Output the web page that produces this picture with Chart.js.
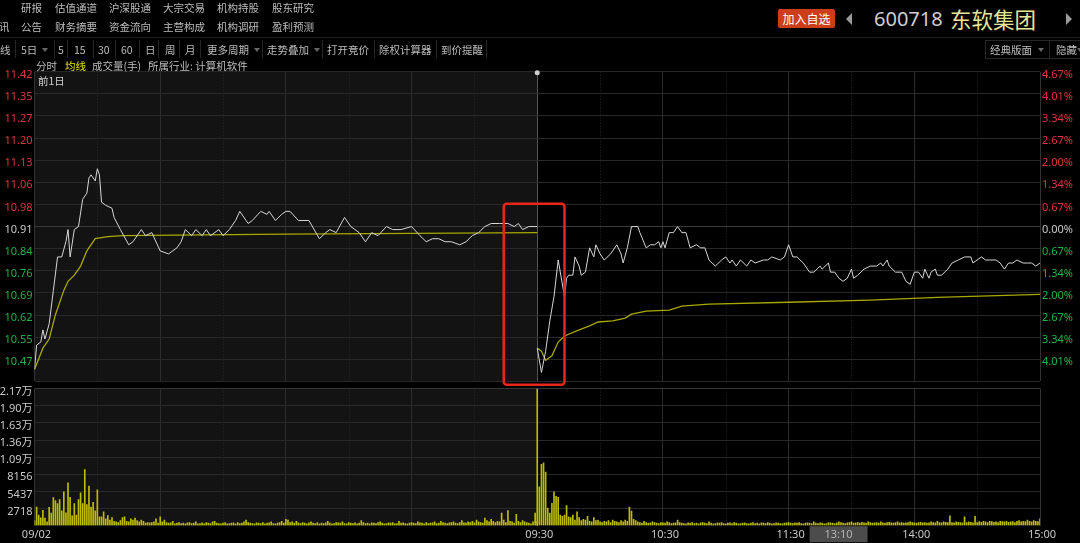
<!DOCTYPE html>
<html>
<head>
<meta charset="utf-8">
<title>600718 东软集团</title>
<script src="https://cdn.jsdelivr.net/npm/chart.js@4.4.1/dist/chart.umd.min.js"></script>
<style>
  html, body { margin: 0; padding: 0; background: #000; }
  body { width: 1080px; height: 543px; overflow: hidden; position: relative;
         font-family: "Noto Sans CJK SC", "Noto Sans", sans-serif; color: #bdbdbd; }
  .t { position: absolute; font-size: 10.5px; line-height: 13px; white-space: nowrap; z-index: 3; }
  .sep { position: absolute; top: 40px; width: 1px; height: 18px; background: #262626; }
  .dd { position: absolute; top: 48px; width: 0; height: 0; border-left: 3px solid transparent;
        border-right: 3px solid transparent; border-top: 4px solid #666; }
  canvas { position: absolute; left: 0; }
</style>
</head>
<body>
<!-- 顶部菜单 -->
<span class="t" style="left:21px;top:1px">研报</span>
<span class="t" style="left:55px;top:1px">估值通道</span>
<span class="t" style="left:109px;top:1px">沪深股通</span>
<span class="t" style="left:163px;top:1px">大宗交易</span>
<span class="t" style="left:217px;top:1px">机构持股</span>
<span class="t" style="left:272px;top:1px">股东研究</span>
<span class="t" style="left:-1px;top:19.5px">讯</span>
<span class="t" style="left:21px;top:19.5px">公告</span>
<span class="t" style="left:55px;top:19.5px">财务摘要</span>
<span class="t" style="left:109px;top:19.5px">资金流向</span>
<span class="t" style="left:163px;top:19.5px">主营构成</span>
<span class="t" style="left:217px;top:19.5px">机构调研</span>
<span class="t" style="left:272px;top:19.5px">盈利预测</span>

<div style="position:absolute;left:778px;top:9px;width:57px;height:19px;background:#cc3d18;border-radius:2px;color:#fff;font-size:12px;line-height:19px;text-align:center">加入自选</div>
<div style="position:absolute;left:846px;top:13px;width:0;height:0;border-top:6px solid transparent;border-bottom:6px solid transparent;border-right:6px solid #9a9a9a"></div>
<div style="position:absolute;left:874px;top:6px;font-family:'Noto Sans',sans-serif;font-size:20px;line-height:26px;color:#cfcfcf">600718</div>
<div style="position:absolute;left:950px;top:5px;font-size:21.5px;line-height:28px;color:#e4e49a">东软集团</div>
<div style="position:absolute;left:1066px;top:13px;width:0;height:0;border-top:6px solid transparent;border-bottom:6px solid transparent;border-left:6px solid #9a9a9a"></div>

<div style="position:absolute;left:0;top:37px;width:1080px;height:1px;background:#1c1c1c"></div>

<!-- 工具栏 -->
<span class="t" style="left:0;top:42.5px">线</span>
<span class="t" style="left:21px;top:42.5px">5日</span>
<div class="dd" style="left:42px"></div>
<span class="t" style="left:58px;top:42.5px">5</span>
<span class="t" style="left:74px;top:42.5px">15</span>
<span class="t" style="left:98px;top:42.5px">30</span>
<span class="t" style="left:121px;top:42.5px">60</span>
<span class="t" style="left:145px;top:42.5px">日</span>
<span class="t" style="left:165px;top:42.5px">周</span>
<span class="t" style="left:185px;top:42.5px">月</span>
<span class="t" style="left:207px;top:42.5px">更多周期</span>
<div class="dd" style="left:254px"></div>
<span class="t" style="left:267px;top:42.5px">走势叠加</span>
<div class="dd" style="left:314px"></div>
<span class="t" style="left:327px;top:42.5px">打开竞价</span>
<span class="t" style="left:379px;top:42.5px">除权计算器</span>
<span class="t" style="left:441px;top:42.5px">到价提醒</span>
<div class="sep" style="left:15px"></div>
<div class="sep" style="left:54px"></div>
<div class="sep" style="left:67px"></div>
<div class="sep" style="left:93px"></div>
<div class="sep" style="left:115px"></div>
<div class="sep" style="left:139px"></div>
<div class="sep" style="left:158px"></div>
<div class="sep" style="left:179px"></div>
<div class="sep" style="left:200px"></div>
<div class="sep" style="left:262px"></div>
<div class="sep" style="left:322px"></div>
<div class="sep" style="left:374px"></div>
<div class="sep" style="left:436px"></div>
<div class="sep" style="left:486px"></div>

<div style="position:absolute;left:985px;top:40px;width:100px;height:17px;border:1px solid #262626"></div>
<span class="t" style="left:990px;top:42.5px">经典版面</span>
<div class="dd" style="left:1038px"></div>
<div class="sep" style="left:1049px"></div>
<span class="t" style="left:1056px;top:42.5px">隐藏</span>
<div class="dd" style="left:1077px"></div>

<span class="t" style="left:36px;top:58.5px">分时</span>
<span class="t" style="left:65px;top:58.5px;color:#e6e600">均线</span>
<span class="t" style="left:92px;top:58.5px">成交量(手)</span>
<span class="t" style="left:148px;top:58.5px">所属行业: 计算机软件</span>
<span class="t" style="left:38px;top:73.5px;color:#cfcfcf">前1日</span>

<canvas id="vol" width="1080" height="163" style="top:380px;z-index:1"></canvas>
<canvas id="price" width="1080" height="390" style="top:0;z-index:2"></canvas>

<script>
// 昨收 10.91，纵轴每格 0.667%
var PREV_CLOSE = 10.91;
var STEP = 0.07277;
var DAY = 240;           // 一个交易日 240 分钟
var VOL_STEP = 2718.75;

var priceLabels = ['11.42','11.35','11.27','11.20','11.13','11.06','10.98','10.91','10.84','10.76','10.69','10.62','10.55','10.47'];
var pctLabels = ['4.67%','4.01%','3.34%','2.67%','2.00%','1.34%','0.67%','0.00%','0.67%','1.34%','2.00%','2.67%','3.34%','4.01%'];
var volLabels = ['', '2718', '5437', '8156', '1.09万', '1.36万', '1.63万', '1.90万', '2.17万'];
var xTickMin = [0, 240, 300, 360, 420, 480];
var xTickText = ['09/02', '09:30', '10:30', '11:30', '14:00', '15:00'];
var cursorMin = 370, cursorText = '13:10';

// 前1日 (09/02) 分时
var prevPxMin = [0,1,3,4,5,7,9,11,13,15, 16,17,19,21,23,25,26,27,29,30, 31,32,34,37,38,41,45,47,51,53,
  56,60,64,68,70,72,75,77,80,82, 84,88,90,93,96,98,101,102,104,108, 111,112,115,118,120,122,126,131,136,139,
  141,144,148,151,155,158,161,164,168,171, 175,180,184,187,190,193,196,199,203,206, 209,212,215,218,222,226,229,231,233,236, 240];
var prevPxVal = [10.44,10.52,10.53,10.57,10.54,10.59,10.70,10.81,10.81,10.86, 10.90,10.81,10.90,10.91,11.00,11.02,11.07,11.08,11.06,11.10,
  11.08,10.99,10.98,10.97,10.94,10.90,10.85,10.86,10.90,10.88, 10.89,10.83,10.82,10.84,10.86,10.90,10.88,10.90,10.88,10.90,
  10.88,10.90,10.88,10.90,10.93,10.96,10.93,10.92,10.93,10.96, 10.95,10.96,10.93,10.95,10.96,10.96,10.93,10.93,10.87,10.89,
  10.90,10.89,10.94,10.91,10.89,10.86,10.89,10.88,10.91,10.90, 10.90,10.91,10.88,10.86,10.87,10.87,10.86,10.86,10.85,10.86,
  10.88,10.89,10.91,10.92,10.92,10.92,10.91,10.92,10.90,10.91, 10.91];
var prevAvgMin = [0,4,7,10,14,16,19,22,25,29,35,42,120,240];
var prevAvgVal = [10.44,10.51,10.54,10.62,10.70,10.73,10.75,10.78,10.83,10.87,10.877,10.88,10.885,10.89];

// 当日分时
var curPxMin = [0,2,4,5,6,8,10,13,14,15, 17,18,20,21,23,25,27,28,30,32, 35,38,40,41,43,45,48,49,52,54,
  56,58,59,60,61,63,65,67,69,71, 73,76,78,80,82,85,88,90,92,93, 95,97,100,102,104,108,110,112,116,118,
  120,122,124,127,130,132,135,136,139,140, 142,144,146,148,150,151,153,156,159,162, 164,165,167,168,171,174,176,178,180,182,
  184,185,187,188,190,191,193,196,198,201, 204,207,208,212,214,216,219,221,223,225, 227,229,232,234,236,238,240];
var curPxVal = [10.51,10.43,10.50,10.55,10.60,10.68,10.80,10.68,10.74,10.75, 10.75,10.81,10.78,10.75,10.76,10.84,10.81,10.85,10.82,10.80,
  10.82,10.85,10.82,10.79,10.84,10.91,10.91,10.89,10.84,10.85, 10.85,10.86,10.84,10.86,10.84,10.89,10.89,10.91,10.89,10.89,
  10.84,10.85,10.84,10.84,10.80,10.78,10.80,10.81,10.79,10.80, 10.78,10.80,10.78,10.80,10.79,10.80,10.80,10.81,10.80,10.81,
  10.85,10.81,10.81,10.79,10.76,10.76,10.78,10.77,10.79,10.76, 10.76,10.74,10.73,10.74,10.77,10.74,10.75,10.77,10.78,10.78,
  10.79,10.78,10.80,10.78,10.76,10.76,10.73,10.72,10.76,10.76, 10.74,10.77,10.74,10.76,10.77,10.75,10.75,10.77,10.79,10.80,
  10.81,10.81,10.79,10.81,10.80,10.80,10.80,10.79,10.77,10.79, 10.79,10.80,10.79,10.79,10.79,10.78,10.79];
var curAvgMin = [0,2,4,7,10,13,20,25,29,36,42,45,52,63,69,82,120,159,191,240];
var curAvgVal = [10.51,10.50,10.47,10.485,10.53,10.55,10.57,10.583,10.596,10.60,10.609,10.622,10.632,10.635,10.648,10.655,10.661,10.668,10.677,10.687];

// 成交量(手)，每分钟一根
var prevVol = [770,2950,1700,1230,2450,1200,600,2900,2000,4450, 4000,3500,4150,2350,5370,2050,6800,4500,1550,3500,
  1700,4150,5220,3500,8900,3350,6300,2950,3700,2350, 5680,1400,1400,2200,1100,1600,900,1300,700,600,
  500,800,1300,1400,700,600,1100,900,1200,800, 600,900,700,400,500,450,500,600,1100,400,
  1400,600,900,500,400,450,700,300,400,500, 350,400,300,450,500,350,400,600,300,350,
  450,300,500,400,350,600,700,400,350,300, 400,500,300,350,400,450,300,500,350,400,
  600,900,500,400,350,300,450,400,350,500, 300,400,450,600,350,300,400,500,700,400,
  1000,900,500,600,400,700,450,350,500,400, 300,450,600,400,350,500,300,400,350,450,
  700,400,300,350,500,450,400,600,350,300, 500,400,350,450,300,400,800,500,350,400,
  300,450,400,350,500,600,400,300,350,450, 400,500,300,350,700,400,450,350,300,400,
  500,400,350,600,450,400,300,500,350,400, 450,600,350,400,700,500,400,350,450,500,
  600,400,350,500,800,450,400,600,500,700, 450,900,600,500,400,1200,800,600,1000,700,
  500,700,600,2000,900,500,2400,700,600,400, 1800,700,500,800,600,500,400,300,600,2000, 700];
var curVol = [21700,6150,9720,9980,8500,2800,2000,3530,5370,4650, 4500,1700,1500,1700,3180,1400,1300,1700,900,2200,
  1300,800,1000,900,1500,700,600,1300,800,900, 600,500,700,600,800,500,900,700,600,500,
  800,600,900,700,2970,2300,1000,800,600,500, 400,700,500,400,450,600,500,400,350,500,
  450,400,600,500,350,400,450,900,500,400, 350,300,450,400,500,350,400,300,450,500,
  400,350,600,400,300,350,450,400,500,350, 300,400,450,350,500,400,300,350,400,450,
  350,300,400,500,350,400,300,450,400,350, 500,400,300,350,450,400,350,300,400,450,
  500,400,350,450,400,500,350,300,400,450, 400,350,600,400,350,450,400,300,350,500,
  450,400,350,450,600,500,400,350,450,500, 600,400,450,500,400,550,450,400,600,500,
  400,450,500,400,600,450,400,500,550,450, 400,500,600,450,500,400,450,500,600,500,
  450,400,500,550,450,500,400,450,600,500, 450,700,500,450,600,550,500,1580,500,450,
  600,550,500,450,1400,500,600,550,450,1500, 500,650,550,700,600,500,700,650,550,600,
  500,700,650,600,700,550,600,650,500,700, 800,600,700,650,900,700,600,800,700,650, 1100];

// 红框标注 (分钟, 价格)
var redBox = { from: 224, to: 253, top: 10.985, bottom: 10.39 };

var RED = '#dc3440', GREEN = '#22b04a';
var HI = PREV_CLOSE + 7 * STEP, LO = PREV_CLOSE - 7 * STEP;

Chart.defaults.font.family = '"Noto Sans", "Noto Sans CJK SC", sans-serif';
Chart.defaults.font.size = 11;

function pts(mins, vals, offset) {
    return mins.map(function (m, i) { return { x: offset + m, y: vals[i] }; });
}

var gridMins = [];
for (var m = 0; m <= 2 * DAY; m += 30) gridMins.push(m);

function xGridColor(c) {
    var v = c.tick.value;
    if (v === DAY) return '#555555';
    if (v === 0 || v === 2 * DAY) return '#333333';
    if (v % 60 === 0) return '#2c2c2c';
    return 'rgba(0,0,0,0)';
}

// 前1日底色 + 半点虚线
var panelBg = {
    id: 'panelBg',
    beforeDraw: function (chart) {
        var ctx = chart.ctx, a = chart.chartArea, x = chart.scales.x;
        ctx.save();
        ctx.fillStyle = '#131313';
        ctx.fillRect(a.left, a.top, x.getPixelForValue(DAY) - a.left, a.bottom - a.top);
        ctx.restore();
    },
    beforeDatasetsDraw: function (chart) {
        var ctx = chart.ctx, a = chart.chartArea, x = chart.scales.x;
        ctx.save();
        ctx.strokeStyle = '#2a2a2a';
        ctx.lineWidth = 1;
        ctx.setLineDash([1, 2]);
        gridMins.forEach(function (v) {
            if (v % 60 !== 30) return;
            var px = Math.round(x.getPixelForValue(v)) + 0.5;
            ctx.beginPath();
            ctx.moveTo(px, a.top);
            ctx.lineTo(px, a.bottom);
            ctx.stroke();
        });
        ctx.restore();
    }
};

var priceMarks = {
    id: 'priceMarks',
    afterDraw: function (chart) {
        var ctx = chart.ctx, a = chart.chartArea, x = chart.scales.x, y = chart.scales.y;
        ctx.save();
        ctx.fillStyle = '#d0d0d0';
        ctx.beginPath();
        ctx.arc(x.getPixelForValue(DAY), a.top + 1, 2.5, 0, Math.PI * 2);
        ctx.fill();
        var x0 = x.getPixelForValue(redBox.from), x1 = x.getPixelForValue(redBox.to);
        var y0 = y.getPixelForValue(redBox.top), y1 = y.getPixelForValue(redBox.bottom);
        ctx.strokeStyle = '#e8261c';
        ctx.lineWidth = 2.5;
        ctx.beginPath();
        ctx.roundRect(x0, y0, x1 - x0, y1 - y0, 3);
        ctx.stroke();
        ctx.restore();
    }
};

var cursorBox = {
    id: 'cursorBox',
    afterDraw: function (chart) {
        var ctx = chart.ctx, a = chart.chartArea, x = chart.scales.x;
        var px = x.getPixelForValue(cursorMin);
        ctx.save();
        ctx.fillStyle = '#4c4c4c';
        ctx.fillRect(px, a.bottom + 0.5, 58, 16);
        ctx.fillStyle = '#b4b4b4';
        ctx.font = '11px "Noto Sans", sans-serif';
        ctx.textAlign = 'center';
        ctx.textBaseline = 'middle';
        ctx.fillText(cursorText, px + 29, a.bottom + 9);
        ctx.restore();
    }
};

var common = {
    responsive: false,
    animation: false,
    events: [],
    devicePixelRatio: 1,
    plugins: { legend: { display: false }, tooltip: { enabled: false } }
};

new Chart(document.getElementById('price'), {
    type: 'line',
    data: {
        datasets: [
            { data: pts(prevPxMin, prevPxVal, 0), borderColor: '#d6d6d6', borderWidth: 1 },
            { data: pts(prevAvgMin, prevAvgVal, 0), borderColor: '#a8a800', borderWidth: 1.3 },
            { data: pts(curPxMin, curPxVal, DAY), borderColor: '#d6d6d6', borderWidth: 1 },
            { data: pts(curAvgMin, curAvgVal, DAY), borderColor: '#a8a800', borderWidth: 1.3 }
        ]
    },
    options: Object.assign({}, common, {
        layout: { autoPadding: false, padding: { top: 71.7, bottom: 6.4, left: 0, right: 0 } },
        elements: { point: { radius: 0 }, line: { tension: 0 } },
        scales: {
            x: {
                type: 'linear', min: 0, max: 2 * DAY,
                afterBuildTicks: function (s) { s.ticks = gridMins.map(function (v) { return { value: v }; }); },
                afterFit: function (s) { s.height = 0; },
                ticks: { display: false },
                grid: { color: xGridColor, drawTicks: false },
                border: { display: false }
            },
            y: {
                position: 'left', min: LO, max: HI,
                afterBuildTicks: function (s) {
                    s.ticks = priceLabels.map(function (t, i) { return { value: PREV_CLOSE + (7 - i) * STEP }; });
                    s.ticks.push({ value: LO });
                },
                afterFit: function (s) { s.width = 34.5; },
                grid: { color: function (c) { return c.index === 7 ? '#3a3a3a' : '#282828'; }, drawTicks: false },
                border: { display: false },
                ticks: {
                    padding: 2, labelOffset: 3,
                    color: function (c) { return c.index < 7 ? RED : (c.index === 7 ? '#c8c8c8' : GREEN); },
                    callback: function (v, i) { return priceLabels[i] || ''; }
                }
            },
            y2: {
                position: 'right', min: LO, max: HI,
                afterBuildTicks: function (s) {
                    s.ticks = pctLabels.map(function (t, i) { return { value: PREV_CLOSE + (7 - i) * STEP }; });
                },
                afterFit: function (s) { s.width = 40; },
                grid: { display: false, drawTicks: false },
                border: { display: false },
                ticks: {
                    padding: 2, labelOffset: 3,
                    color: function (c) { return c.index < 7 ? RED : (c.index === 7 ? '#c8c8c8' : GREEN); },
                    callback: function (v, i) { return pctLabels[i]; }
                }
            }
        }
    }),
    plugins: [panelBg, priceMarks]
});

new Chart(document.getElementById('vol'), {
    type: 'bar',
    data: {
        datasets: [
            { data: prevVol.map(function (v, i) { return { x: i, y: v }; }), backgroundColor: '#bcbc00', barThickness: 1, grouped: false },
            { data: curVol.map(function (v, i) { return { x: DAY + i, y: v }; }), backgroundColor: '#bcbc00', barThickness: 1, grouped: false }
        ]
    },
    options: Object.assign({}, common, {
        layout: { autoPadding: false, padding: { top: 4, bottom: 0, left: 0, right: 40 } },
        scales: {
            x: {
                type: 'linear', min: 0, max: 2 * DAY, offset: false,
                afterBuildTicks: function (s) { s.ticks = gridMins.map(function (v) { return { value: v }; }); },
                afterFit: function (s) { s.height = 17.3; },
                grid: { color: xGridColor, drawTicks: false, offset: false },
                border: { display: false },
                ticks: {
                    autoSkip: false, maxRotation: 0, padding: 3, labelOffset: 2, color: '#c8c8c8',
                    callback: function (v) { var k = xTickMin.indexOf(v); return k < 0 ? '' : xTickText[k]; }
                }
            },
            y: {
                position: 'left', min: 0, max: 8 * VOL_STEP,
                afterBuildTicks: function (s) { s.ticks = volLabels.map(function (t, i) { return { value: i * VOL_STEP }; }); },
                afterFit: function (s) { s.width = 34.5; },
                grid: { color: function (c) { return c.index === 0 ? 'rgba(0,0,0,0)' : (c.index === 8 ? '#363636' : '#282828'); }, drawTicks: false },
                border: { display: false },
                ticks: {
                    padding: 2, labelOffset: 3, color: '#c8c8c8',
                    font: { family: '"Noto Sans", "Noto Sans CJK SC", sans-serif', size: 11 },
                    callback: function (v, i) { return volLabels[i]; }
                }
            }
        }
    }),
    plugins: [panelBg, cursorBox]
});
</script>
</body>
</html>
